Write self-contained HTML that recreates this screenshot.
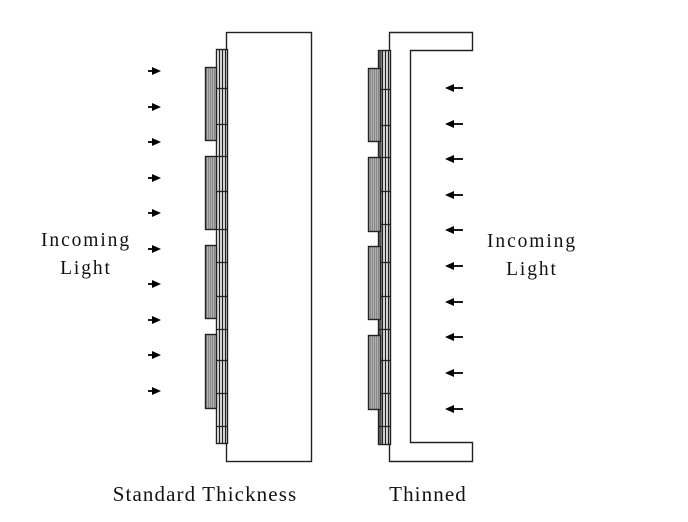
<!DOCTYPE html>
<html><head><meta charset="utf-8"><style>
html,body{margin:0;padding:0;background:#fff;}
svg{display:block}
text{font-family:"Liberation Serif",serif;font-size:19.5px;fill:#111;letter-spacing:1.9px}
</style></head><body>
<svg width="688" height="522" viewBox="0 0 688 522" xmlns="http://www.w3.org/2000/svg">
<defs>
<pattern id="st" width="2" height="4" patternUnits="userSpaceOnUse">
<rect width="2" height="4" fill="#b0b0b0"/><rect width="1" height="4" fill="#888"/>
</pattern>
<g id="al"><line x1="148" y1="0" x2="158" y2="0" stroke="#000" stroke-width="1.8"/><polygon points="161,0 152,-4 152,4" fill="#000"/></g>
<g id="ar"><line x1="452" y1="0" x2="463" y2="0" stroke="#000" stroke-width="1.8"/><polygon points="445,0 454,-4 454,4" fill="#000"/></g>
</defs>
<g fill="none" stroke="#222" stroke-width="1.4">
<rect x="226.5" y="32.5" width="85" height="429" fill="#fff"/>
<rect x="216.5" y="49.5" width="11" height="394" fill="#fff"/>
<line x1="219.5" y1="49.5" x2="219.5" y2="443.5"/>
<line x1="222.5" y1="49.5" x2="222.5" y2="443.5"/>
<line x1="225.5" y1="49.5" x2="225.5" y2="443.5"/>
<path d="M389.5 32.5H472.5V50.5H410.5V442.5H472.5V461.5H389.5Z" fill="#fff"/>
<rect x="378.5" y="50.5" width="12" height="394" fill="#fff"/>
<rect x="379" y="51" width="2.5" height="393" fill="#555" stroke="none"/>
<line x1="382.5" y1="50.5" x2="382.5" y2="444.5"/>
<line x1="385.5" y1="50.5" x2="385.5" y2="444.5"/>
<line x1="388.5" y1="50.5" x2="388.5" y2="444.5"/>
</g>
<g stroke="#222" stroke-width="1.3">
<line x1="216" y1="88.5" x2="227" y2="88.5"/><line x1="216" y1="124.5" x2="227" y2="124.5"/>
<line x1="216" y1="156.5" x2="227" y2="156.5"/><line x1="216" y1="191.5" x2="227" y2="191.5"/>
<line x1="216" y1="229.5" x2="227" y2="229.5"/><line x1="216" y1="262.5" x2="227" y2="262.5"/>
<line x1="216" y1="296.5" x2="227" y2="296.5"/><line x1="216" y1="329.5" x2="227" y2="329.5"/>
<line x1="216" y1="360.5" x2="227" y2="360.5"/><line x1="216" y1="393.5" x2="227" y2="393.5"/>
<line x1="216" y1="426.5" x2="227" y2="426.5"/>
<line x1="378" y1="89.5" x2="391" y2="89.5"/><line x1="378" y1="125.5" x2="391" y2="125.5"/>
<line x1="378" y1="157.5" x2="391" y2="157.5"/><line x1="378" y1="191.5" x2="391" y2="191.5"/>
<line x1="378" y1="224.5" x2="391" y2="224.5"/><line x1="378" y1="262.5" x2="391" y2="262.5"/>
<line x1="378" y1="296.5" x2="391" y2="296.5"/><line x1="378" y1="329.5" x2="391" y2="329.5"/>
<line x1="378" y1="360.5" x2="391" y2="360.5"/><line x1="378" y1="393.5" x2="391" y2="393.5"/>
<line x1="378" y1="426.5" x2="391" y2="426.5"/>
</g>
<g fill="url(#st)" stroke="#222" stroke-width="1.4">
<rect x="205.5" y="67.5" width="11" height="73"/>
<rect x="205.5" y="156.5" width="11" height="73"/>
<rect x="205.5" y="245.5" width="11" height="73"/>
<rect x="205.5" y="334.5" width="11" height="74"/>
<rect x="368.5" y="68.5" width="12" height="73"/>
<rect x="368.5" y="157.5" width="12" height="74"/>
<rect x="368.5" y="246.5" width="12" height="73"/>
<rect x="368.5" y="335.5" width="12" height="74"/>
</g>
<g>
<use href="#al" y="71"/><use href="#al" y="107"/><use href="#al" y="142"/><use href="#al" y="178"/><use href="#al" y="213"/>
<use href="#al" y="249"/><use href="#al" y="284"/><use href="#al" y="320"/><use href="#al" y="355"/><use href="#al" y="391"/>
<use href="#ar" y="88"/><use href="#ar" y="124"/><use href="#ar" y="159"/><use href="#ar" y="195"/><use href="#ar" y="230"/>
<use href="#ar" y="266"/><use href="#ar" y="302"/><use href="#ar" y="337"/><use href="#ar" y="373"/><use href="#ar" y="409"/>
</g>
<text x="86" y="246" text-anchor="middle">Incoming</text>
<text x="86" y="274" text-anchor="middle">Light</text>
<text x="532" y="247" text-anchor="middle">Incoming</text>
<text x="532" y="275" text-anchor="middle">Light</text>
<text x="205" y="501" text-anchor="middle" style="font-size:21px;letter-spacing:1.1px">Standard Thickness</text>
<text x="428" y="501" text-anchor="middle" style="font-size:21px;letter-spacing:1.1px">Thinned</text>
</svg>
</body></html>
